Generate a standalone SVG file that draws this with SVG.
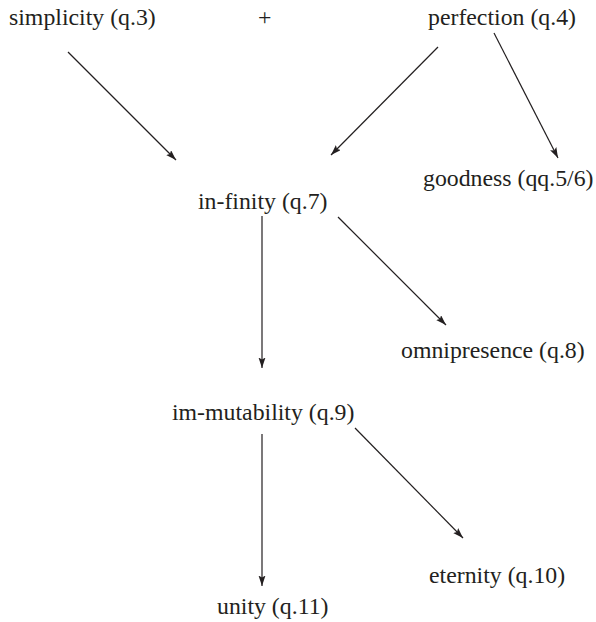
<svg xmlns="http://www.w3.org/2000/svg" width="596" height="622" viewBox="0 0 596 622">
<style>
text{font-family:"Liberation Serif","Times New Roman",serif;font-size:23.8px;fill:#231f20}
.c line{stroke:#231f20;stroke-width:1.2;marker-end:url(#ah)}
</style>
<defs>
<marker id="ah" markerUnits="userSpaceOnUse" markerWidth="11" markerHeight="8" refX="10.5" refY="3.5" orient="auto">
<path d="M0,0 L10.5,3.5 L0,7 L2,3.5 z" fill="#231f20"/>
</marker>
</defs>
<rect width="596" height="622" fill="#fff"/>
<g id="simplicity"><text x="9" y="24.5">simplicity (q.3)</text></g>
<g id="plus"><text x="258" y="24.5">+</text></g>
<g id="perfection"><text x="428" y="24.5">perfection (q.4)</text></g>
<g id="goodness"><text x="423" y="185.5">goodness (qq.5/6)</text></g>
<g id="infinity"><text x="198" y="208.5">in-finity (q.7)</text></g>
<g id="omnipresence"><text x="401" y="357.5">omnipresence (q.8)</text></g>
<g id="immutability"><text x="172" y="419.5">im-mutability (q.9)</text></g>
<g id="eternity"><text x="429" y="583">eternity (q.10)</text></g>
<g id="unity"><text x="217" y="613.5">unity (q.11)</text></g>
<g class="c" id="connectors">
<line x1="68" y1="52" x2="176" y2="160"/>
<line x1="438" y1="47" x2="331" y2="155"/>
<line x1="494" y1="33" x2="558" y2="158"/>
<line x1="262" y1="216" x2="262" y2="368"/>
<line x1="338" y1="217" x2="446" y2="325"/>
<line x1="262" y1="434" x2="262" y2="586"/>
<line x1="355" y1="428" x2="463" y2="538"/>
</g>
</svg>
